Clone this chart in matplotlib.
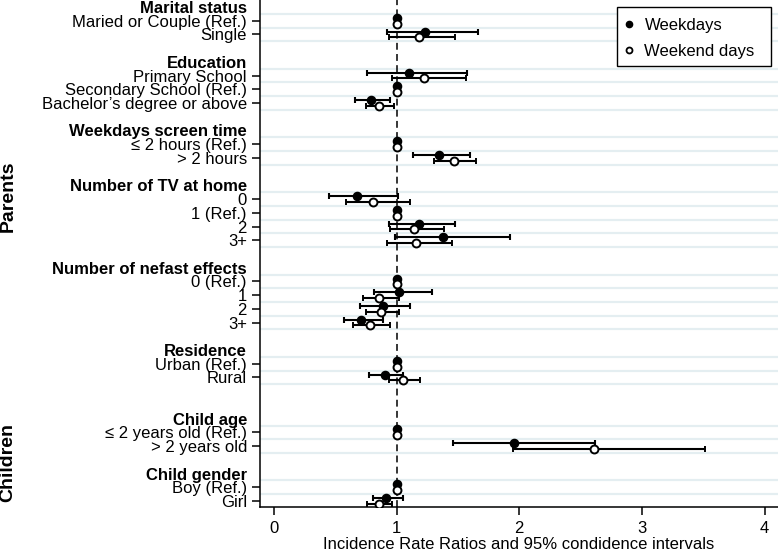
import matplotlib
matplotlib.use("Agg")
import matplotlib.pyplot as plt
from matplotlib.lines import Line2D
from matplotlib.patches import Rectangle
import numpy as np

plt.rcParams['font.family'] = ['Liberation Sans', 'DejaVu Sans']

# ---------------- data ----------------
groups = ["Marital status", "Education", "Weekdays screen time",
          "Number of TV at home", "Number of nefast effects", "Residence",
          "Child age", "Child gender"]
group_items = [
    ["Maried or Couple (Ref.)", "Single"],
    ["Primary School", "Secondary School (Ref.)", "Bachelor\u2019s degree or above"],
    ["\u2264 2 hours (Ref.)", "> 2 hours"],
    ["0", "1 (Ref.)", "2", "3+"],
    ["0 (Ref.)", "1", "2", "3+"],
    ["Urban (Ref.)", "Rural"],
    ["\u2264 2 years old (Ref.)", "> 2 years old"],
    ["Boy (Ref.)", "Girl"],
]
blank_rows_after = [1, 1, 1, 1, 1, 2, 1, 0]

# Weekdays
wd_irr = [1.00, 1.236, 1.10, 1.00, 0.794, 1.00, 1.348, 0.676, 1.00, 1.181, 1.380,
          1.00, 1.023, 0.886, 0.712, 1.00, 0.903, 1.00, 1.956, 1.00, 0.917]
wd_lo = [1.00, 0.922, 0.758, 1.00, 0.663, 1.00, 1.135, 0.450, 1.00, 0.936, 0.990,
         1.00, 0.813, 0.704, 0.575, 1.00, 0.777, 1.00, 1.459, 1.00, 0.805]
wd_hi = [1.00, 1.661, 1.577, 1.00, 0.944, 1.00, 1.598, 1.009, 1.00, 1.478, 1.926,
         1.00, 1.290, 1.113, 0.889, 1.00, 1.053, 1.00, 2.621, 1.00, 1.053]
# Weekend days
we_irr = [1.00, 1.180, 1.225, 1.00, 0.854, 1.00, 1.467, 0.807, 1.00, 1.140, 1.159,
          1.00, 0.857, 0.873, 0.780, 1.00, 1.053, 1.00, 2.613, 1.00, 0.854]
we_lo = [1.00, 0.936, 0.963, 1.00, 0.750, 1.00, 1.309, 0.586, 1.00, 0.944, 0.925,
         1.00, 0.726, 0.750, 0.644, 1.00, 0.936, 1.00, 1.950, 1.00, 0.758]
we_hi = [1.00, 1.478, 1.563, 1.00, 0.977, 1.00, 1.648, 1.113, 1.00, 1.391, 1.451,
         1.00, 1.017, 1.023, 0.949, 1.00, 1.189, 1.00, 3.513, 1.00, 0.963]

x_ticks = [0, 1, 2, 3, 4]
x_label = "Incidence Rate Ratios and 95% condidence intervals"
side_labels = ["Parents", "Children"]

# ---------------- layout of rows ----------------
header_rows, item_rows, item_labels = [], [], []
r = 0
for g, items, gap in zip(groups, group_items, blank_rows_after):
    header_rows.append(r)
    r += 1
    for it in items:
        item_rows.append(r)
        item_labels.append(it)
        r += 1
    r += gap
item_rows = np.array(item_rows, dtype=float)

W, H = 778, 552
fig = plt.figure(figsize=(W / 100, H / 100), dpi=100)
ax = fig.add_axes([260 / W, (H - 507.3) / H, (W - 260) / W, 507.3 / H])

# grid lines at row boundaries
bounds = sorted(set(list(item_rows - 0.5) + list(item_rows + 0.5)))
for b in bounds:
    ax.axhline(b, color='#e4eef1', lw=1.6, zorder=0)

ax.axvline(1, color='black', lw=1.1, dashes=(4.5, 2.8), zorder=1)

off = 0.21
wd = np.array(wd_irr); we = np.array(we_irr)
ax.errorbar(wd, item_rows - off,
            xerr=[wd - np.array(wd_lo), np.array(wd_hi) - wd],
            fmt='o', color='black', ms=5.9, mfc='black', mec='black',
            elinewidth=1.5, capsize=2.4, capthick=1.5, zorder=3)
ax.errorbar(we, item_rows + off,
            xerr=[we - np.array(we_lo), np.array(we_hi) - we],
            fmt='o', color='black', ms=5.7, mfc='white', mec='black', mew=1.4,
            elinewidth=1.5, capsize=2.4, capthick=1.5, zorder=3)

ax.set_ylim(36.46, -0.51)
ax.set_xlim(-0.113, 4.11)
ax.set_yticks(item_rows)
ax.set_yticklabels(item_labels, fontsize=12)
ax.set_xticks(x_ticks)
ax.set_xticklabels([str(t) for t in x_ticks], fontsize=12)
ax.tick_params(axis='y', length=5.8, width=1.1, pad=3.6)
ax.tick_params(axis='x', length=5.8, width=1.1, pad=4)
ax.set_xlabel(x_label, fontsize=12, labelpad=1)

for s in ['top', 'right']:
    ax.spines[s].set_visible(False)
for s in ['left', 'bottom']:
    ax.spines[s].set_linewidth(1.1)

for g, hr in zip(groups, header_rows):
    ax.annotate(g, xy=(0, hr), xycoords=('axes fraction', 'data'),
                xytext=(-9.4, 0), textcoords='offset points',
                ha='right', va='center_baseline', fontsize=12, fontweight='bold')

fig.text(8 / W, 1 - 196 / H, side_labels[0], rotation=90, ha='center', va='center',
         fontsize=14, fontweight='bold')
fig.text(8 / W, 1 - 462 / H, side_labels[1], rotation=90, ha='center', va='center',
         fontsize=14, fontweight='bold')

# legend frame (drawn separately to get the asymmetric padding)
frame = Rectangle((617 / W, 1 - 66 / H), 154 / W, 59 / H, transform=fig.transFigure,
                  facecolor='white', edgecolor='black', lw=1.0, zorder=4)
fig.add_artist(frame)

handles = [Line2D([], [], ls='none', marker='o', ms=4.5, mfc='black', mec='black'),
           Line2D([], [], ls='none', marker='o', ms=4.3, mfc='white', mec='black', mew=1.3)]
leg = fig.legend(handles, ["Weekdays", "Weekend days"], loc='upper left',
                 bbox_to_anchor=(617 / W, 1 - 9 / H), bbox_transform=fig.transFigure,
                 borderaxespad=0, fontsize=12, frameon=False,
                 handlelength=0.28, handletextpad=0.82,
                 borderpad=0.55, labelspacing=0.62)
leg.set_zorder(5)

fig.savefig("out.png", dpi=100)
